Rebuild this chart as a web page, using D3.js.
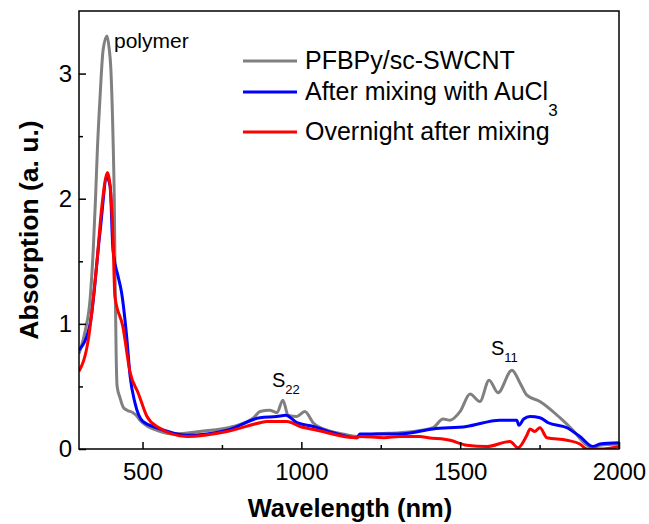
<!DOCTYPE html>
<html>
<head>
<meta charset="utf-8">
<script src="https://cdn.jsdelivr.net/npm/d3@7"></script>
<style>
    body{margin:0;background:#fff;}
    svg text{font-family:"Liberation Sans", Arial, sans-serif;fill:#000;}
</style>
</head>
<body>
<div id="chart"></div>
<script>
// data
let grayWl = [300,320,335,345,352,358,366,376,388,395,400,407,411,414,417,420,429,440,451,470,480,492,517,545,600,680,785,850,870,900,923,942,958,986,1011,1037,1081,1130,1175,1230,1310,1380,1415,1446,1468,1500,1531,1562,1591,1619,1663,1690,1710,1751,1814,1855,1899,1918,1940,2000];
let grayAbs = [0.76,0.95,1.2,1.6,2.0,2.4,2.8,3.19,3.30,3.2,3.05,2.5,2.0,1.3,0.75,0.5,0.41,0.33,0.31,0.29,0.27,0.23,0.18,0.15,0.12,0.14,0.18,0.25,0.30,0.31,0.29,0.39,0.27,0.26,0.30,0.21,0.15,0.12,0.10,0.12,0.13,0.15,0.17,0.24,0.23,0.30,0.44,0.38,0.55,0.45,0.63,0.52,0.43,0.38,0.25,0.15,0.03,0.01,0.03,0.04];

let blueWl = [300,335,366,388,398,407,423,434,450,461,476,501,545,640,766,870,923,951,986,1037,1100,1175,1184,1260,1310,1415,1520,1625,1678,1685,1700,1720,1751,1777,1836,1877,1918,1940,2000];
let blueAbs = [0.79,1.0,1.73,2.17,2.1,1.59,1.38,1.25,0.90,0.58,0.37,0.22,0.17,0.11,0.15,0.25,0.26,0.27,0.21,0.18,0.13,0.09,0.12,0.12,0.12,0.16,0.18,0.23,0.23,0.19,0.24,0.26,0.25,0.21,0.17,0.10,0.02,0.04,0.05];

let redWl = [300,329,357,372,390,398,407,413,438,461,486,514,545,640,766,870,891,955,996,1049,1175,1184,1260,1310,1373,1400,1468,1521,1584,1657,1682,1710,1720,1735,1751,1773,1836,1877,1899,1950,2000];
let redAbs = [0.62,0.87,1.51,1.94,2.21,2.1,1.7,1.22,0.98,0.61,0.45,0.26,0.18,0.10,0.14,0.21,0.22,0.22,0.18,0.15,0.09,0.10,0.09,0.10,0.10,0.09,0.07,0.03,0.02,0.06,0.01,0.11,0.16,0.14,0.17,0.09,0.07,0.04,0.0,0.0,0.02];

let seriesNames = ["PFBPy/sc-SWCNT", "After mixing with AuCl", "Overnight after mixing"];
let seriesColors = ["#808080", "#0000ff", "#ff0000"];

let xMajorTicks = [500,1000,1500,2000];
let xMinorTicks = [750,1250,1750];
let yMajorTicks = [0,1,2,3];
let yMinorTicks = [0.5,1.5,2.5];

let W = 649, H = 524;
let margin = {left:79, right:30, top:11, bottom:75};
let width = W - margin.left - margin.right;
let height = H - margin.top - margin.bottom;

let svg = d3.select("#chart").append("svg")
    .attr("width", W)
    .attr("height", H);

let root = svg.append("g")
    .attr("transform", "translate(" + margin.left + "," + margin.top + ")");

let xScale = d3.scaleLinear().domain([300,2000]).range([0,width]);
let yScale = d3.scaleLinear().domain([0,3.5]).range([height,0]);

root.append("clipPath").attr("id","plotclip")
    .append("rect").attr("width", width).attr("height", height);

let line = d3.line()
    .x(function(d){ return xScale(d[0]); })
    .y(function(d){ return yScale(d[1]); })
    .curve(d3.curveMonotoneX);

let series = [
    d3.zip(grayWl, grayAbs),
    d3.zip(blueWl, blueAbs),
    d3.zip(redWl, redAbs)
];

root.append("g").attr("clip-path","url(#plotclip)")
    .selectAll("path")
    .data(series)
    .enter().append("path")
    .attr("d", line)
    .attr("fill","none")
    .attr("stroke", function(d,i){ return seriesColors[i]; })
    .attr("stroke-width", 3)
    .attr("stroke-linejoin","round");

// axes (ticks inward)
function styleAxis(g){
    g.select(".domain").remove();
    g.selectAll("line").attr("stroke","#000").attr("stroke-width",1.5);
    g.selectAll("text").attr("font-size", 24).attr("fill","#000");
}

root.append("g")
    .attr("transform","translate(0," + height + ")")
    .call(d3.axisBottom(xScale).tickValues(xMajorTicks).tickSizeInner(-7).tickSizeOuter(0).tickPadding(14).tickFormat(d3.format("d")))
    .call(styleAxis);
root.append("g")
    .attr("transform","translate(0," + height + ")")
    .call(d3.axisBottom(xScale).tickValues(xMinorTicks).tickSizeInner(-4).tickSizeOuter(0).tickFormat(""))
    .call(styleAxis);

root.append("g")
    .call(d3.axisLeft(yScale).tickValues(yMajorTicks).tickSizeInner(-7).tickSizeOuter(0).tickPadding(7).tickFormat(d3.format("d")))
    .call(styleAxis);
root.append("g")
    .call(d3.axisLeft(yScale).tickValues(yMinorTicks).tickSizeInner(-4).tickSizeOuter(0).tickFormat(""))
    .call(styleAxis);

root.append("rect")
    .attr("width", width).attr("height", height)
    .attr("fill","none").attr("stroke","#000").attr("stroke-width",1.5);

// axis titles
svg.append("text")
    .attr("x", 350).attr("y", 517)
    .attr("text-anchor","middle")
    .attr("font-size", 25.5).attr("font-weight","bold")
    .text("Wavelength (nm)");
svg.append("text")
    .attr("transform","translate(38,230) rotate(-90)")
    .attr("text-anchor","middle")
    .attr("font-size", 26.5).attr("font-weight","bold")
    .text("Absorption (a. u.)");

// legend
let legendY = [61, 92, 132];
let legend = svg.append("g");
seriesNames.forEach(function(name, i){
    legend.append("line")
        .attr("x1", 243).attr("x2", 297)
        .attr("y1", legendY[i]).attr("y2", legendY[i])
        .attr("stroke", seriesColors[i]).attr("stroke-width", 3);
    let t = legend.append("text")
        .attr("x", 305).attr("y", legendY[i] + 7.5)
        .attr("font-size", 25)
        .text(name);
    if(i == 1){
        t.append("tspan").attr("font-size", 17).attr("dy", 16).text("3");
    }
});

// peak annotations
svg.append("text")
    .attr("x", 114).attr("y", 48)
    .attr("font-size", 21)
    .text("polymer");

function subLabel(x, y, main, sub){
    let t = svg.append("text").attr("x", x).attr("y", y).attr("font-size", 20);
    t.append("tspan").text(main);
    t.append("tspan").attr("font-size", 13).attr("dy", 7).text(sub);
}
subLabel(272, 387, "S", "22");
subLabel(491, 355, "S", "11");
</script>
</body>
</html>
